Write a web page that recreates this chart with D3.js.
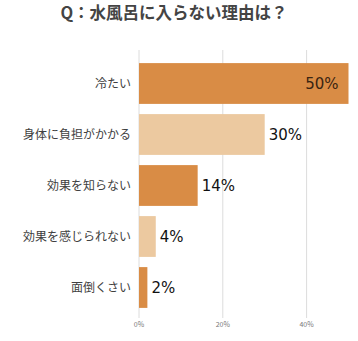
<!DOCTYPE html>
<html>
<head>
<meta charset="utf-8">
<script src="https://cdn.jsdelivr.net/npm/d3@7/dist/d3.min.js"></script>
<style>
  html, body { margin: 0; padding: 0; background: #fff; }
  svg { display: block; font-family: "Noto Sans CJK JP", "Noto Sans", sans-serif; }
</style>
</head>
<body>
<svg id="chart" width="358" height="341"></svg>
<script>
const titleText = "Q：水風呂に入らない理由は？";
const categories = ["冷たい", "身体に負担がかかる", "効果を知らない", "効果を感じられない", "面倒くさい"];
const values = [50, 30, 14, 4, 2];
const tickValues = [0, 20, 40];
const barColors = ["#d98c45", "#ecc9a0", "#d98c45", "#ecc9a0", "#d98c45"];

const svg = d3.select("#chart");

const x = d3.scaleLinear().domain([0, 50]).range([139, 348.5]);
const y = d3.scaleBand().domain(categories).range([58, 313]).paddingInner(0.2).paddingOuter(0.1);

// title
svg.append("text")
  .attr("x", 174).attr("y", 19)
  .attr("text-anchor", "middle")
  .attr("font-size", 16.5).attr("font-weight", "bold")
  .attr("fill", "#444")
  .text(titleText);

// vertical gridlines
svg.append("g").selectAll("line")
  .data(tickValues)
  .join("line")
  .attr("x1", d => x(d)).attr("x2", d => x(d))
  .attr("y1", 50).attr("y2", 318)
  .attr("stroke", "#dcdcdc").attr("stroke-width", 1);

// tick labels
svg.append("g").selectAll("text")
  .data(tickValues)
  .join("text")
  .attr("x", d => x(d)).attr("y", 327)
  .attr("text-anchor", "middle")
  .attr("font-size", 7).attr("fill", "#777")
  .text(d => d + "%");

// bars
svg.append("g").selectAll("rect")
  .data(values)
  .join("rect")
  .attr("x", x(0))
  .attr("y", (d, i) => y(categories[i]))
  .attr("width", d => x(d) - x(0))
  .attr("height", y.bandwidth())
  .attr("fill", (d, i) => barColors[i]);

// category labels
svg.append("g").selectAll("text")
  .data(categories)
  .join("text")
  .attr("x", 131)
  .attr("y", d => y(d) + y.bandwidth() / 2)
  .attr("dy", "0.35em")
  .attr("text-anchor", "end")
  .attr("font-size", 12).attr("fill", "#404040")
  .text(d => d);

// value labels: inside the longest bar, outside the rest
const maxV = d3.max(values);
svg.append("g").selectAll("text")
  .data(values)
  .join("text")
  .attr("x", d => d === maxV ? x(d) - 10 : x(d) + 4)
  .attr("y", (d, i) => y(categories[i]) + y.bandwidth() / 2)
  .attr("dy", "0.35em")
  .attr("text-anchor", d => d === maxV ? "end" : "start")
  .attr("font-family", "'DejaVu Sans', sans-serif")
  .attr("font-size", 15)
  .attr("fill", d => d === maxV ? "#3a2412" : "#111")
  .text(d => d + "%");
</script>
</body>
</html>
